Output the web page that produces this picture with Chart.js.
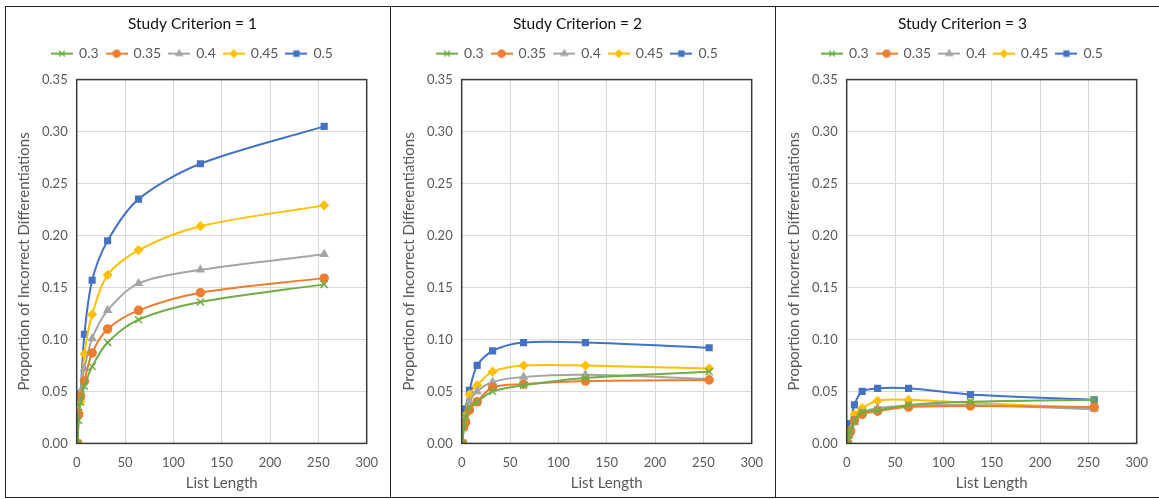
<!DOCTYPE html>
<html lang="en">
<head>
  <meta charset="UTF-8">
  <title>Study Criterion</title>
  <style>
    body { margin: 0; background: #fff; }
    #wrap { position: absolute; left: 5px; top: 6px; display: flex; }
    .panel { border: 1px solid #222; width: 384px; height: 490px; margin-right: -1px; }
    canvas { display: block; }
  </style>
</head>
<body>

  <div id="wrap">
    <div class="panel"><canvas id="c1" width="384" height="490"></canvas></div>
    <div class="panel"><canvas id="c2" width="384" height="490"></canvas></div>
    <div class="panel"><canvas id="c3" width="384" height="490"></canvas></div>
  </div>

  <script src="https://cdn.jsdelivr.net/npm/chart.js"></script>

  <script>
    // list lengths (x) shared by every series
    const listLength = [1, 2, 4, 8, 16, 32, 64, 128, 256];
    const seriesNames = ['0.3', '0.35', '0.4', '0.45', '0.5'];
    const seriesColors = ['#70AD47', '#ED7D31', '#A5A5A5', '#FFC000', '#4472C4'];
    const seriesMarkers = ['crossRot', 'circle', 'triangle', 'rectRot', 'rect'];

    // Study Criterion = 1
    const crit1_03  = [0, 0.022, 0.040, 0.055, 0.074, 0.097, 0.119, 0.136, 0.153];
    const crit1_035 = [0, 0.028, 0.045, 0.060, 0.087, 0.110, 0.128, 0.145, 0.159];
    const crit1_04  = [0, 0.028, 0.050, 0.072, 0.101, 0.128, 0.154, 0.167, 0.182];
    const crit1_045 = [0, 0.030, 0.040, 0.086, 0.124, 0.162, 0.186, 0.209, 0.229];
    const crit1_05  = [0, 0.030, 0.048, 0.105, 0.157, 0.195, 0.235, 0.269, 0.305];

    // Study Criterion = 2
    const crit2_03  = [0, 0.015, 0.025, 0.035, 0.040, 0.050, 0.056, 0.063, 0.069];
    const crit2_035 = [0, 0.016, 0.020, 0.032, 0.040, 0.054, 0.057, 0.060, 0.061];
    const crit2_04  = [0, 0.016, 0.025, 0.040, 0.050, 0.059, 0.064, 0.066, 0.062];
    const crit2_045 = [0, 0.020, 0.027, 0.047, 0.056, 0.069, 0.075, 0.075, 0.072];
    const crit2_05  = [0, 0.016, 0.033, 0.051, 0.075, 0.089, 0.097, 0.097, 0.092];

    // Study Criterion = 3
    const crit3_03  = [0, 0.008, 0.012, 0.022, 0.030, 0.032, 0.037, 0.040, 0.042];
    const crit3_035 = [0, 0.008, 0.012, 0.022, 0.028, 0.031, 0.035, 0.036, 0.035];
    const crit3_04  = [0, 0.008, 0.012, 0.020, 0.029, 0.034, 0.036, 0.037, 0.033];
    const crit3_045 = [0, 0.009, 0.013, 0.028, 0.034, 0.041, 0.042, 0.039, 0.034];
    const crit3_05  = [0, 0.010, 0.019, 0.037, 0.050, 0.053, 0.053, 0.047, 0.042];

    const xTicks = [0, 50, 100, 150, 200, 250, 300];
    const yTicks = [0, 0.05, 0.10, 0.15, 0.20, 0.25, 0.30, 0.35];

    const panels = [
      { id: 'c1', title: 'Study Criterion = 1', series: [crit1_03, crit1_035, crit1_04, crit1_045, crit1_05] },
      { id: 'c2', title: 'Study Criterion = 2', series: [crit2_03, crit2_035, crit2_04, crit2_045, crit2_05] },
      { id: 'c3', title: 'Study Criterion = 3', series: [crit3_03, crit3_035, crit3_04, crit3_045, crit3_05] }
    ];

    // legend symbol: short line with the marker on it
    function legendIcon(color, marker) {
      const cv = document.createElement('canvas');
      cv.width = 22; cv.height = 10;
      const ctx = cv.getContext('2d');
      ctx.strokeStyle = color;
      ctx.fillStyle = color;
      ctx.lineWidth = 2;
      ctx.beginPath(); ctx.moveTo(0, 5); ctx.lineTo(22, 5); ctx.stroke();
      ctx.lineWidth = 1.5;
      Chart.helpers.drawPoint(ctx, { pointStyle: marker, radius: marker === 'crossRot' ? 4 : 3.5, borderWidth: 1.5, rotation: 0 }, 11, 5);
      return cv;
    }

    // dark frame around the plot area, and a bit more room under the legend
    const frame = {
      id: 'frame',
      beforeInit(chart) {
        const origFit = chart.legend.fit;
        chart.legend.fit = function () {
          origFit.bind(chart.legend)();
          this.height += 9;
        };
      },
      afterDraw(chart) {
        const a = chart.chartArea, ctx = chart.ctx;
        ctx.save();
        ctx.strokeStyle = '#3a3a3a';
        ctx.lineWidth = 1.5;
        ctx.strokeRect(a.left, a.top, a.right - a.left, a.bottom - a.top);
        ctx.restore();
      }
    };

    panels.forEach(function (p) {
      const datasets = p.series.map(function (vals, i) {
        return {
          label: seriesNames[i],
          data: vals.map(function (v, k) { return { x: listLength[k], y: v }; }),
          borderColor: seriesColors[i],
          backgroundColor: seriesColors[i],
          pointStyle: seriesMarkers[i],
          pointRadius: seriesMarkers[i] === 'crossRot' ? 5 : 4,
          pointBorderWidth: 1.5,
          borderWidth: 2,
          tension: 0.3
        };
      });

      new Chart(document.getElementById(p.id), {
        type: 'line',
        data: { datasets: datasets },
        options: {
          responsive: false,
          animation: false,
          layout: { padding: { left: 9, right: 20, top: 0, bottom: 5 } },
          plugins: {
            title: {
              display: true,
              text: p.title,
              color: '#111',
              font: { family: 'Lato', size: 15.5, weight: 'normal' },
              padding: { top: 8, bottom: 5 }
            },
            legend: {
              display: true,
              position: 'top',
              labels: {
                usePointStyle: true,
                pointStyleWidth: 20,
                color: '#595959',
                font: { family: 'Lato', size: 14 },
                padding: 8,
                generateLabels: function (chart) {
                  return chart.data.datasets.map(function (ds, i) {
                    return {
                      text: ds.label,
                      pointStyle: legendIcon(seriesColors[i], seriesMarkers[i]),
                      fontColor: '#595959',
                      datasetIndex: i,
                      lineWidth: 0
                    };
                  });
                }
              }
            },
            tooltip: { enabled: false }
          },
          scales: {
            x: {
              type: 'linear',
              min: 0, max: 300,
              afterBuildTicks: function (ax) { ax.ticks = xTicks.map(function (v) { return { value: v }; }); },
              ticks: { color: '#595959', font: { family: 'Lato', size: 13 }, maxRotation: 0, padding: 12 },
              grid: { color: '#d9d9d9', drawTicks: false },
              border: { display: false },
              title: { display: true, text: 'List Length', color: '#595959', font: { family: 'Lato', size: 15 }, padding: { top: -9, bottom: 0 } }
            },
            y: {
              min: 0, max: 0.35,
              afterBuildTicks: function (ax) { ax.ticks = yTicks.map(function (v) { return { value: v }; }); },
              ticks: {
                color: '#595959',
                font: { family: 'Lato', size: 13 },
                padding: 9,
                callback: function (v) { return v.toFixed(2); }
              },
              grid: { color: '#d9d9d9', drawTicks: false },
              border: { display: false },
              title: { display: true, text: 'Proportion of Incorrect Differentiations', color: '#595959', font: { family: 'Lato', size: 15 }, padding: 0 }
            }
          }
        },
        plugins: [frame]
      });
    });
  </script>

</body>
</html>
